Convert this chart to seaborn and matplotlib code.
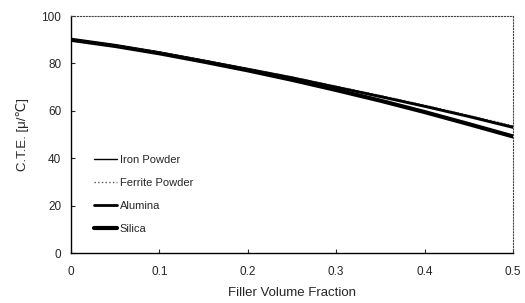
import pandas as pd
import seaborn as sns
import matplotlib
matplotlib.use('Agg')
import matplotlib.pyplot as plt

# Données
fraction = [0, 0.05, 0.1, 0.15, 0.2, 0.25, 0.3, 0.35, 0.4, 0.45, 0.5]
iron = [90, 87.6, 84.6, 81.2, 77.7, 74.1, 70.2, 66.3, 62.2, 57.9, 53.4]
ferrite = [90, 87.6, 84.7, 81.3, 77.8, 74.3, 70.4, 66.5, 62.4, 58.1, 53.7]
alumina = [90, 87.5, 84.5, 81.1, 77.6, 74.0, 70.0, 66.0, 61.9, 57.6, 53.0]
silica = [90, 87.4, 84.3, 80.8, 77.1, 73.1, 68.8, 64.3, 59.5, 54.4, 49.2]

series = {
    'Iron Powder': iron,
    'Ferrite Powder': ferrite,
    'Alumina': alumina,
    'Silica': silica,
}

df = pd.DataFrame([
    {'fraction': f, 'cte': v, 'filler': name}
    for name, vals in series.items()
    for f, v in zip(fraction, vals)
])

sns.set_style('white')
plt.rcParams['font.family'] = ['Liberation Sans', 'DejaVu Sans']

styles = {
    'Iron Powder': dict(lw=1.0, ls='-'),
    'Ferrite Powder': dict(lw=1.0, ls=':', color='#555555'),
    'Alumina': dict(lw=2.0, ls='-'),
    'Silica': dict(lw=3.0, ls='-'),
}

fig = plt.figure(figsize=(5.25, 3.03), dpi=100)
ax = fig.add_axes([0.135, 0.165, 0.842, 0.782])

for name in ['Silica', 'Alumina', 'Ferrite Powder', 'Iron Powder']:
    st = dict(color='black')
    st.update(styles[name])
    sns.lineplot(data=df[df['filler'] == name], x='fraction', y='cte',
                 ax=ax, label=name, color=st['color'], linewidth=st['lw'],
                 linestyle=st['ls'])

ax.set_xlim(0, 0.5)
ax.set_ylim(0, 100)
ax.set_xticks([0, 0.1, 0.2, 0.3, 0.4, 0.5])
ax.set_xticklabels(['0', '0.1', '0.2', '0.3', '0.4', '0.5'])
ax.set_yticks([0, 20, 40, 60, 80, 100])
ax.tick_params(direction='in', length=3, width=0.8, labelsize=8.5,
               bottom=True, left=True)
ax.tick_params(axis='x', pad=9)
ax.tick_params(axis='y', pad=7)
ax.set_xlabel('Filler Volume Fraction', fontsize=9.5, labelpad=7)
ax.set_ylabel('C.T.E. [μ/℃]', fontsize=9.5, labelpad=9)

for side in ['left', 'bottom']:
    ax.spines[side].set_color('black')
    ax.spines[side].set_linewidth(1.0)
for side in ['top', 'right']:
    ax.spines[side].set_color('#444444')
    ax.spines[side].set_linewidth(0.8)
    ax.spines[side].set_linestyle(':')

handles, labels = ax.get_legend_handles_labels()
order = ['Iron Powder', 'Ferrite Powder', 'Alumina', 'Silica']
h = [handles[labels.index(n)] for n in order]
ax.legend(h, order, frameon=False, fontsize=8, loc='lower left',
          bbox_to_anchor=(0.03, 0.04), handlelength=2.1, handletextpad=0.2,
          labelspacing=1.15)

fig.savefig('out.png', dpi=100)
